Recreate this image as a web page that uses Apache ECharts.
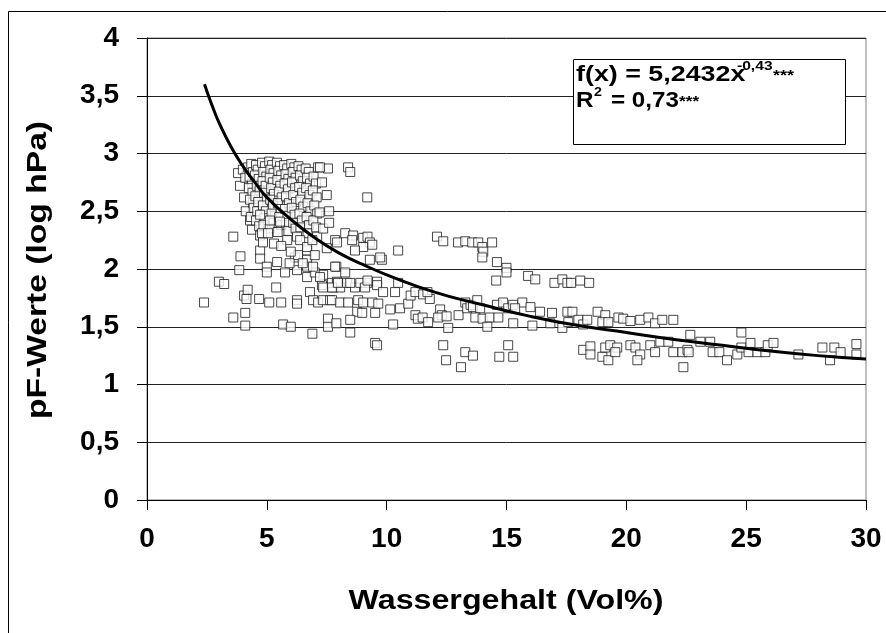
<!DOCTYPE html>
<html>
<head>
<meta charset="utf-8">
<script src="https://cdn.jsdelivr.net/npm/echarts@6/dist/echarts.min.js"></script>
<style>
  html, body { margin: 0; padding: 0; background: #fff; }
  #chart { width: 886px; height: 633px; }
</style>
</head>
<body>
<div id="chart"></div>
<script>
// tick labels (German decimal comma)
const xTickLabels = ['0', '5', '10', '15', '20', '25', '30'];
const yTickLabels = ['0', '0,5', '1', '1,5', '2', '2,5', '3', '3,5', '4'];

// measured points, Wassergehalt (Vol%) / pF
const pointsLeft = [
  [2.38,1.71],[3.0,1.89],[3.22,1.87],[3.6,2.28],[3.6,1.58],[3.85,1.99],[3.9,2.11],[3.8,2.83],
  [3.88,2.72],[4.05,1.77],[4.2,1.82],[4.15,1.74],[4.1,1.62],[4.1,1.51],[4.0,2.86],[4.1,2.79],
  [4.05,2.62],[4.12,2.5],[4.3,2.42],[4.38,2.34],[4.5,2.5],[4.43,2.57],[4.38,2.74]
];
const pointsCluster = [
  [4.22,2.88],[4.35,2.91],[4.28,2.80],[4.42,2.84],[4.25,2.70],[4.4,2.66],[4.3,2.60],[4.45,2.53],[4.33,2.45],
  [4.55,2.90],[4.62,2.86],[4.5,2.81],[4.66,2.78],[4.58,2.72],[4.7,2.68],[4.52,2.63],[4.64,2.58],[4.6,2.50],[4.55,2.42],[4.68,2.37],
  [4.8,2.92],[4.92,2.89],[4.85,2.84],[4.98,2.80],[4.82,2.76],[4.95,2.72],[4.88,2.66],[5.0,2.61],[4.84,2.55],[4.96,2.50],[4.9,2.44],[4.86,2.38],
  [5.1,2.93],[5.22,2.90],[5.15,2.86],[5.28,2.83],[5.12,2.79],[5.25,2.75],[5.18,2.70],[5.3,2.65],[5.14,2.60],[5.26,2.55],[5.2,2.48],[5.3,2.40],[5.12,2.35],
  [5.42,2.92],[5.55,2.89],[5.48,2.85],[5.6,2.81],[5.44,2.77],[5.56,2.72],[5.5,2.67],[5.62,2.62],[5.46,2.57],[5.58,2.52],[5.52,2.45],[5.6,2.38],[5.45,2.32],
  [5.72,2.90],[5.85,2.87],[5.78,2.82],[5.9,2.78],[5.74,2.74],[5.88,2.69],[5.8,2.63],[5.92,2.57],[5.76,2.52],[5.86,2.46],[5.8,2.40],[5.9,2.33],
  [6.02,2.91],[6.15,2.88],[6.08,2.84],[6.2,2.79],[6.05,2.75],[6.18,2.70],[6.1,2.64],[6.22,2.58],[6.04,2.53],[6.16,2.47],[6.1,2.40],[6.2,2.35],
  [6.32,2.89],[6.45,2.86],[6.38,2.81],[6.5,2.76],[6.35,2.71],[6.48,2.66],[6.4,2.60],[6.52,2.54],[6.36,2.48],[6.46,2.42],[6.4,2.36],
  [6.62,2.87],[6.75,2.84],[6.68,2.79],[6.8,2.74],[6.64,2.70],[6.78,2.64],[6.7,2.57],[6.82,2.50],[6.66,2.45],[6.76,2.38],[6.7,2.31],
  [6.95,2.80],[7.05,2.74],[6.92,2.68],[7.08,2.62],[6.98,2.55],[7.1,2.48],[6.94,2.42],[7.06,2.36],
  [7.14,2.88],[7.55,2.87],[7.22,2.88],[7.3,2.75],[7.2,2.49],[7.5,2.64],[7.6,2.50],[8.39,2.88],[8.48,2.84],[9.19,2.62]
];
const pointsMid = [
  [4.72,2.29],[4.72,2.16],[4.72,2.09],[5.0,2.02],[5.43,2.06],[4.8,2.31],[4.84,2.23],[5.13,2.42],[4.72,2.47],
  [5.0,1.97],[5.76,1.97],[6.26,1.99],[5.39,1.84],[4.68,1.74],[5.1,1.71],[5.6,1.71],[6.26,1.73],[6.26,1.70],
  [5.68,1.52],[6.0,1.50],[6.9,1.44],[7.55,1.57],[7.55,1.50],[7.9,1.53],[6.8,1.80],[6.93,1.73],[7.14,1.71],
  [7.35,1.73],[7.35,1.95],[7.3,1.86],[7.64,1.73],[7.77,1.84],[7.9,1.88],[6.68,1.93],[7.0,1.97],
  [5.85,2.25],[6.26,2.28],[6.68,2.16],[6.68,2.08],[6.18,2.10],[7.1,2.28],[7.35,2.35],[7.85,2.25],[7.9,2.02],
  [5.05,2.31],[5.55,2.41],[5.3,2.22],[6.39,2.25],[6.3,2.12],[6.68,2.19],[6.68,2.02],[6.93,2.02],[7.22,1.93],
  [7.35,1.84],[7.72,1.88],[8.06,1.84],[8.35,1.88],[8.68,1.84],[9.19,1.88],[6.5,2.05],[7.0,2.12],[7.5,2.18],
  [6.0,2.15],[5.6,2.2],[6.9,2.25],[7.6,2.4],[5.95,2.05]
];
const pointsCenter = [
  [8.27,2.31],[8.6,2.29],[8.56,2.25],[9.02,2.27],[9.2,2.28],[9.3,2.23],[9.02,2.19],[9.4,2.21],[7.93,2.23],
  [8.68,2.16],[9.3,2.08],[9.8,2.08],[9.73,2.10],[10.48,2.16],
  [7.85,2.02],[7.93,1.89],[7.72,1.84],[8.27,1.97],[7.97,1.88],[8.48,1.88],[7.72,1.73],[8.06,1.71],[8.39,1.71],
  [8.81,1.73],[8.77,1.63],[8.48,1.56],[8.9,1.88],[9.1,1.84],[9.2,1.90],[9.6,1.89],[9.6,1.86],[9.85,1.80],
  [10.35,1.80],[10.48,1.88],[9.02,1.71],[9.4,1.71],[9.65,1.70],[9.52,1.62],[8.98,1.62],
  [10.15,1.65],[10.56,1.66],[10.9,1.70],[11.0,1.77],[11.2,1.80],[11.52,1.78],[11.8,1.74],[11.7,1.80],
  [11.2,1.60],[11.3,1.57],[11.5,1.58],[11.73,1.54],[10.27,1.52],
  [12.23,1.65],[12.3,1.60],[12.15,1.58],[12.5,1.59],[12.57,1.49],[13.0,1.60],
  [13.28,1.71],[13.36,1.66],[13.5,1.69],[13.78,1.73],[13.6,1.67],[13.9,1.66],
  [13.7,1.58],[14.0,1.57],[14.3,1.58],[14.2,1.50],[14.6,1.69],[14.86,1.71],[15.07,1.66],[14.66,1.58],
  [8.48,1.45],[9.52,1.36],[9.6,1.34],[12.36,1.34],[12.48,1.21],[13.28,1.28],[13.6,1.25],[13.1,1.15],
  [14.7,1.24],[15.07,1.34],[15.28,1.24],
  [12.1,2.28],[12.36,2.24],[12.98,2.23],[13.28,2.24],[13.57,2.23],[13.82,2.23],[13.99,2.19],[14.03,2.15],
  [13.99,2.10],[14.4,2.23],[14.6,2.06],[15.0,2.01],[15.0,1.97],[14.57,1.90]
];
const pointsRight = [
  [15.9,1.94],[16.2,1.91],[17.0,1.88],[17.33,1.91],[17.54,1.88],[17.7,1.88],[18.08,1.90],[18.45,1.88],
  [15.28,1.69],[15.66,1.71],[16.0,1.67],[15.36,1.66],
  [15.28,1.53],[16.08,1.51],[16.83,1.53],[17.33,1.49],[16.9,1.62],[16.4,1.63],[17.54,1.63],[17.75,1.63],[17.58,1.54],
  [18.0,1.56],[18.2,1.52],[18.37,1.56],[18.8,1.63],[19.12,1.60],[19.0,1.54],[19.25,1.54],
  [19.67,1.58],[19.87,1.57],[20.17,1.55],[20.58,1.56],[20.92,1.58],[21.2,1.53],[21.5,1.56],[21.96,1.56],
  [18.2,1.30],[18.5,1.33],[18.5,1.26],[19.0,1.24],[19.25,1.21],[19.12,1.32],[19.33,1.34],[19.62,1.32],
  [19.54,1.28],[20.17,1.34],[20.38,1.32],[20.58,1.26],[20.46,1.21],[21.0,1.34],[21.2,1.28],[21.42,1.37],
  [21.75,1.37],[21.96,1.28],[22.34,1.28],[22.38,1.15],[22.55,1.30],
  [22.67,1.43],[22.6,1.28],[23.09,1.37],[23.5,1.37],[23.6,1.28],[23.88,1.28],[24.2,1.21],[24.63,1.26],
  [24.8,1.45],[24.8,1.32],[25.18,1.36],[25.1,1.28],[25.47,1.28],[25.8,1.28],[25.9,1.34],[26.14,1.36],
  [27.18,1.26],[28.18,1.32],[28.5,1.21],[28.68,1.32],[28.94,1.28],[29.6,1.35],[29.6,1.26]
];

// trend line f(x) = 5,2432x^-0,43
const curveX = [2.4, 2.6, 2.8, 3, 3.5, 4, 4.5, 5, 6, 7, 8, 9, 10, 12, 14, 16, 18, 20, 22, 24, 26, 28, 30];
const curveY = [3.60, 3.48, 3.37, 3.27, 3.06, 2.89, 2.75, 2.62, 2.43, 2.27, 2.14, 2.04, 1.95, 1.80, 1.69, 1.59, 1.51, 1.45, 1.39, 1.34, 1.29, 1.25, 1.22];

const chart = echarts.init(document.getElementById('chart'));
const FONT = '"Liberation Sans", Arial, sans-serif';
const allPoints = [].concat(pointsLeft, pointsCluster, pointsMid, pointsCenter, pointsRight);

// Textbausteine der Formel-Box
function boxText(text, x, y, size, sx) {
  return {
    type: 'text', z: 101, x: x, y: y, scaleX: sx,
    style: { text: text, fontFamily: FONT, fontWeight: 'bold', fontSize: size, fill: '#000', verticalAlign: 'middle' }
  };
}

chart.setOption({
  animation: false,
  backgroundColor: '#fff',
  grid: { left: 147, top: 38, right: 20, bottom: 133, show: true, borderColor: '#808080', borderWidth: 1 },
  xAxis: {
    type: 'value', min: 0, max: 30, interval: 5,
    axisLine: { lineStyle: { color: '#000', width: 1 } },
    axisTick: { show: true, inside: false, length: 10, lineStyle: { color: '#000' } },
    axisLabel: {
      margin: 25, color: '#000', fontFamily: FONT, fontWeight: 'bold', fontSize: 28,
      formatter: v => xTickLabels[Math.round(v / 5)]
    },
    splitLine: { show: false }
  },
  yAxis: {
    type: 'value', min: 0, max: 4, interval: 0.5,
    axisLine: { show: true, lineStyle: { color: '#000', width: 1 } },
    axisTick: { show: true, inside: false, length: 10, lineStyle: { color: '#000' } },
    axisLabel: {
      margin: 28, color: '#000', fontFamily: FONT, fontWeight: 'bold', fontSize: 28,
      formatter: v => yTickLabels[Math.round(v * 2)]
    },
    splitLine: { show: true, lineStyle: { color: '#222', width: 1 } }
  },
  series: [
    {
      type: 'scatter',
      data: allPoints,
      symbol: 'rect',
      symbolSize: 9,
      itemStyle: { color: '#fff', borderColor: '#1a1a1a', borderWidth: 1 },
      z: 2
    },
    {
      type: 'line',
      data: curveX.map((x, i) => [x, curveY[i]]),
      smooth: true,
      symbol: 'none',
      lineStyle: { color: '#000', width: 3 },
      z: 3
    }
  ],
  graphic: [
    { type: 'rect', z: 0, silent: true, shape: { x: 8.5, y: 11.5, width: 1000, height: 1000 },
      style: { fill: 'none', stroke: '#000', lineWidth: 1 } },
    { type: 'rect', z: 100, shape: { x: 573.5, y: 59.5, width: 272, height: 85 },
      style: { fill: '#fff', stroke: '#000', lineWidth: 1 } },
    boxText('f(x) = 5,2432x', 576, 75, 22, 1.22),
    boxText('-0,43', 737, 66, 13, 1.2),
    boxText('***', 773, 76, 15, 1.2),
    boxText('R', 576, 101, 22, 1.1),
    boxText('2', 594, 92, 13, 1.1),
    boxText('= 0,73', 611, 101, 22, 1.1),
    boxText('***', 679, 102, 15, 1.15),
    { type: 'text', z: 101, x: 506, y: 601, scaleX: 1.15,
      style: { text: 'Wassergehalt (Vol%)', fontFamily: FONT, fontWeight: 'bold', fontSize: 28, fill: '#000', align: 'center', verticalAlign: 'middle' } },
    { type: 'text', z: 101, x: 38, y: 270, rotation: Math.PI / 2, scaleX: 1.2,
      style: { text: 'pF-Werte (log hPa)', fontFamily: FONT, fontWeight: 'bold', fontSize: 28, fill: '#000', align: 'center', verticalAlign: 'middle' } }
  ]
});

window.addEventListener('resize', () => chart.resize());
</script>
</body>
</html>
